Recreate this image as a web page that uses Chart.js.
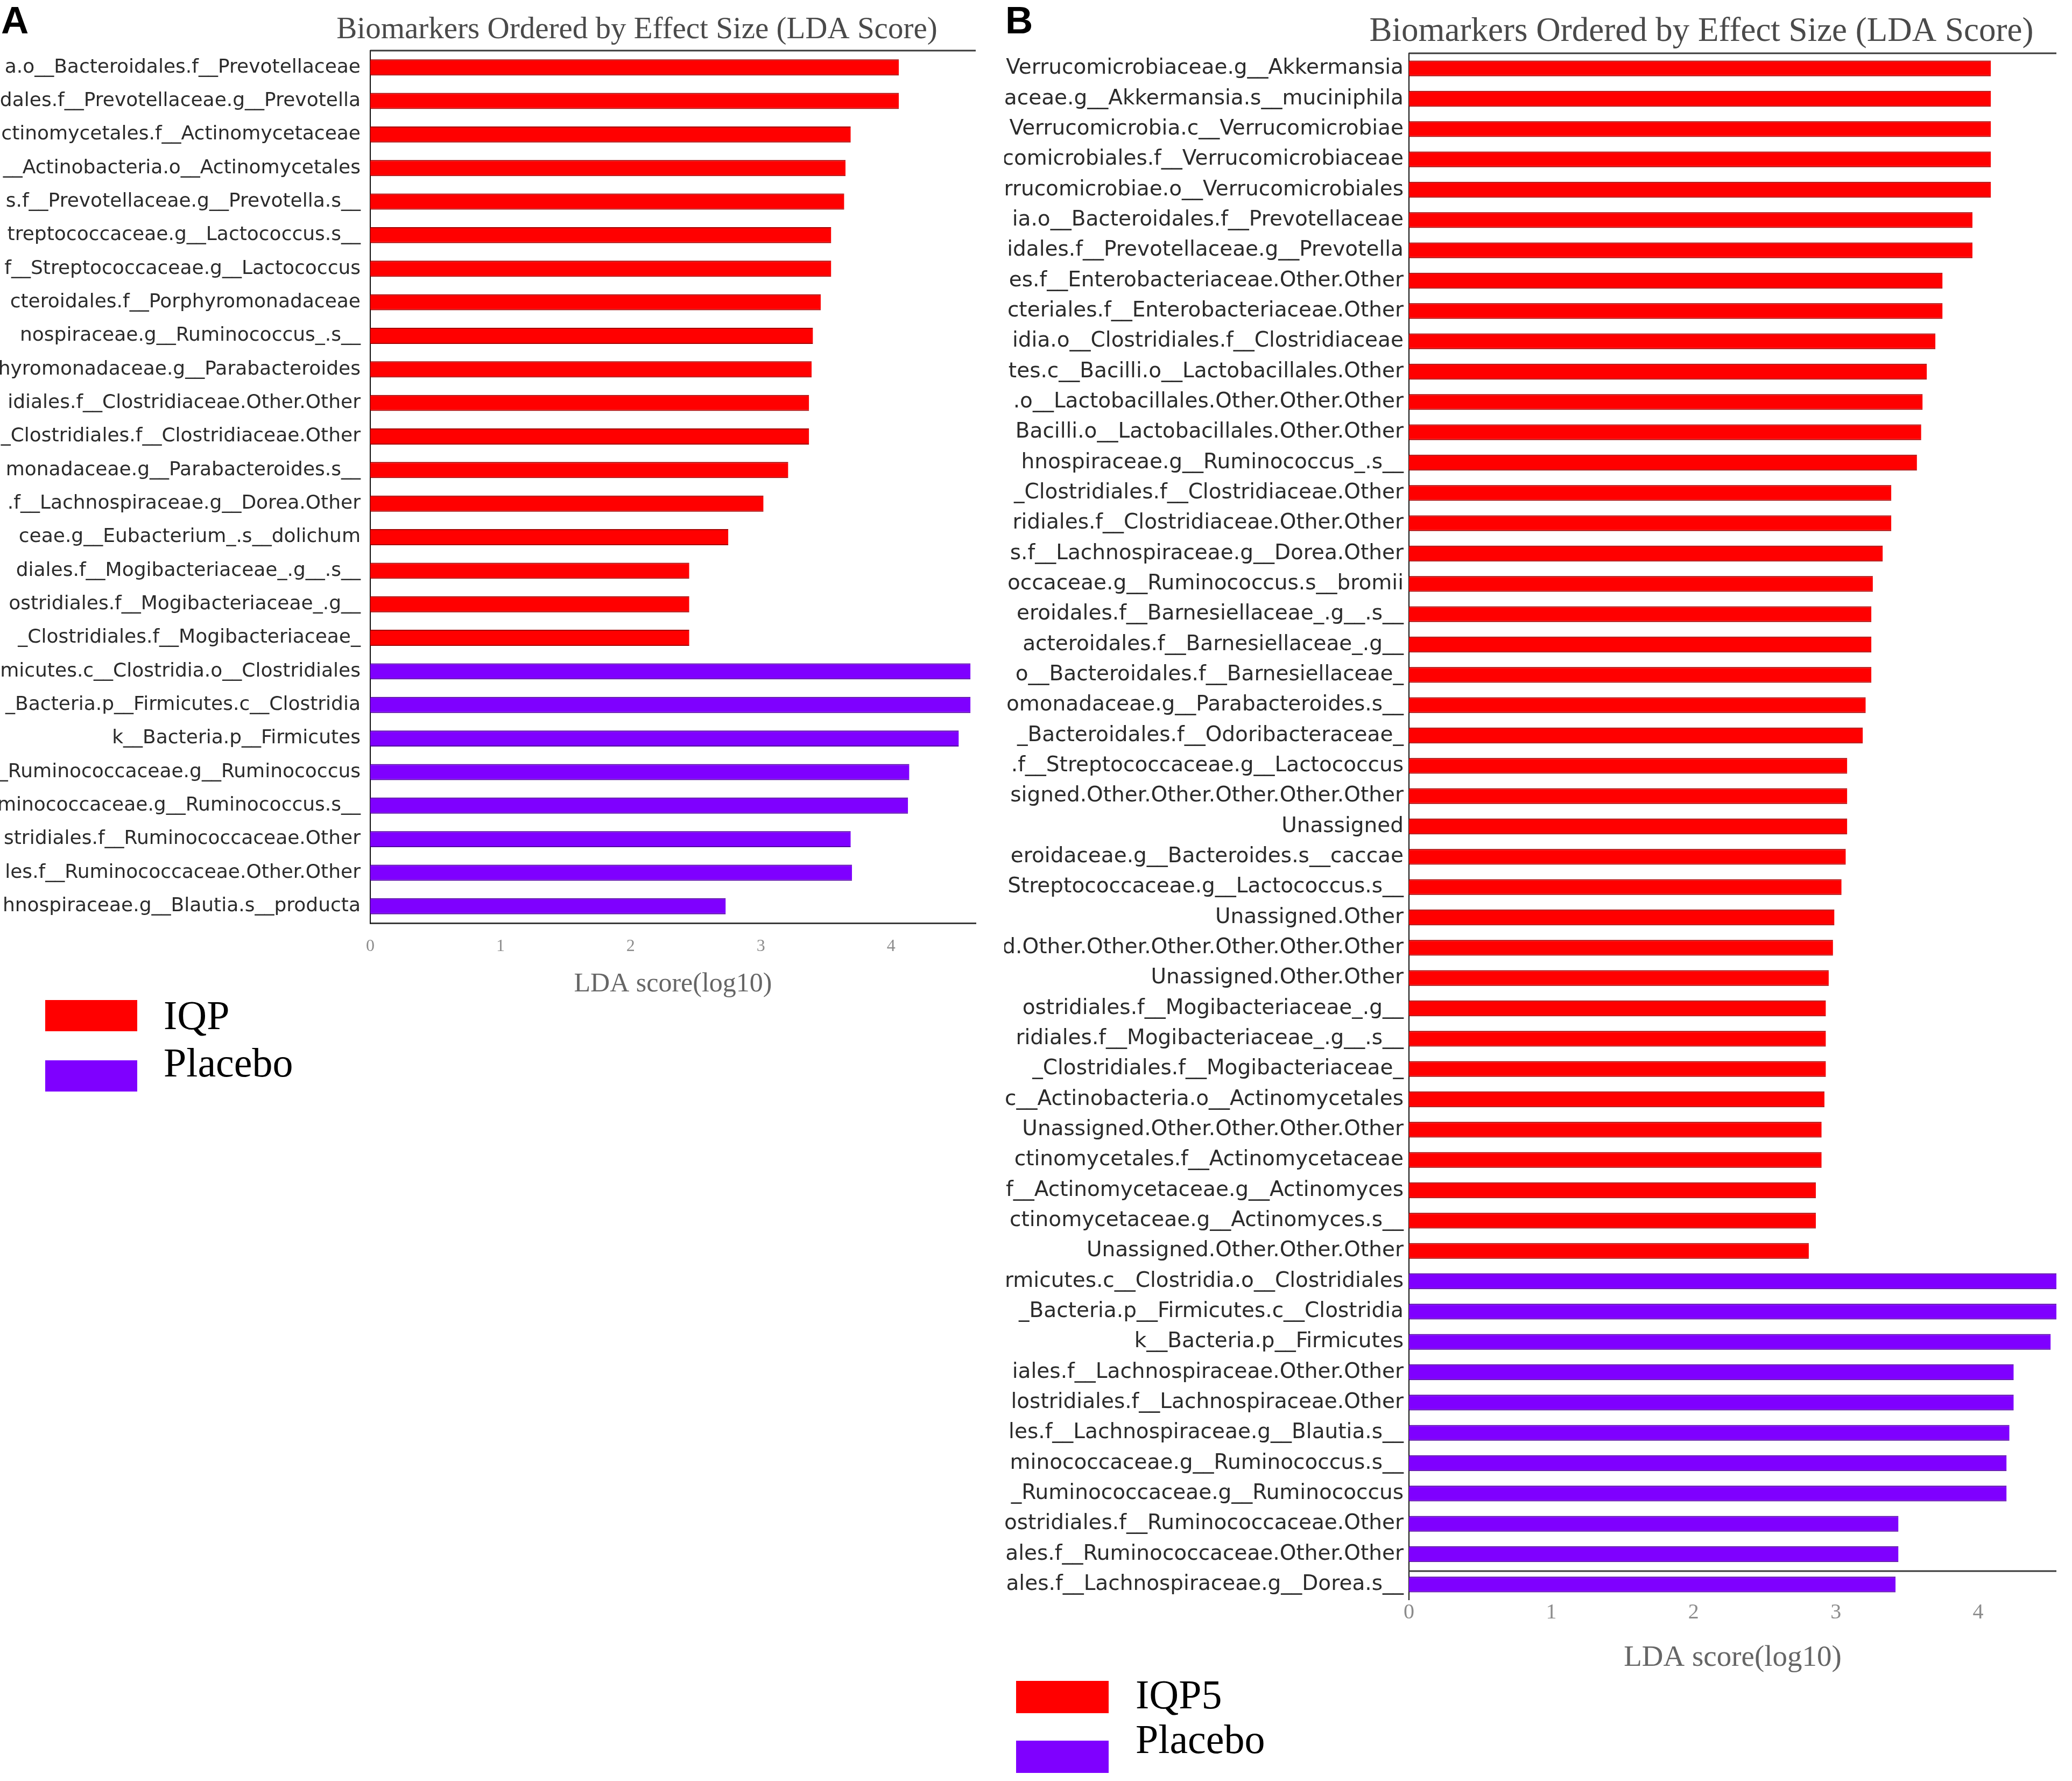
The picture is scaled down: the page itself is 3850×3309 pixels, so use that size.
<!DOCTYPE html>
<html>
<head>
<meta charset="utf-8">
<script src="https://cdn.jsdelivr.net/npm/chart.js@4.4.1/dist/chart.umd.min.js"></script>
<style>
    html, body { margin: 0; padding: 0; background: #fff; width: 3850px; height: 3309px; overflow: hidden; }
    body { position: relative; }
    canvas { position: absolute; top: 0; }
    #chartA { left: 0; }
    #chartB { left: 1866px; }
    .tag { position: absolute; font-family: "Liberation Sans", Arial, sans-serif; font-weight: bold; font-size: 71px; line-height: 1; color: #000; }
    .key { position: absolute; }
    .key-text { position: absolute; font-family: "Liberation Serif", serif; font-size: 76px; line-height: 1; color: #000; white-space: nowrap; }
</style>
</head>
<body>
<div class="tag" style="left:2px; top:2px;">A</div>
<div class="tag" style="left:1868px; top:2px;">B</div>
<canvas id="chartA" width="1850" height="1880"></canvas>
<canvas id="chartB" width="1984" height="3130"></canvas>
<script>
// panel A (IQP vs Placebo)
var iqpLabelsA = [
    "a.o__Bacteroidales.f__Prevotellaceae",
    "dales.f__Prevotellaceae.g__Prevotella",
    "ctinomycetales.f__Actinomycetaceae",
    "__Actinobacteria.o__Actinomycetales",
    "s.f__Prevotellaceae.g__Prevotella.s__",
    "treptococcaceae.g__Lactococcus.s__",
    "f__Streptococcaceae.g__Lactococcus",
    "cteroidales.f__Porphyromonadaceae",
    "nospiraceae.g__Ruminococcus_.s__",
    "hyromonadaceae.g__Parabacteroides",
    "idiales.f__Clostridiaceae.Other.Other",
    "_Clostridiales.f__Clostridiaceae.Other",
    "monadaceae.g__Parabacteroides.s__",
    ".f__Lachnospiraceae.g__Dorea.Other",
    "ceae.g__Eubacterium_.s__dolichum",
    "diales.f__Mogibacteriaceae_.g__.s__",
    "ostridiales.f__Mogibacteriaceae_.g__",
    "_Clostridiales.f__Mogibacteriaceae_"
];
var iqpValuesA = [4.06, 4.06, 3.69, 3.65, 3.64, 3.54, 3.54, 3.46, 3.40, 3.39, 3.37, 3.37, 3.21, 3.02, 2.75, 2.45, 2.45, 2.45];

var placeboLabelsA = [
    "micutes.c__Clostridia.o__Clostridiales",
    "_Bacteria.p__Firmicutes.c__Clostridia",
    "k__Bacteria.p__Firmicutes",
    "_Ruminococcaceae.g__Ruminococcus",
    "minococcaceae.g__Ruminococcus.s__",
    "stridiales.f__Ruminococcaceae.Other",
    "les.f__Ruminococcaceae.Other.Other",
    "hnospiraceae.g__Blautia.s__producta"
];
var placeboValuesA = [4.61, 4.61, 4.52, 4.14, 4.13, 3.69, 3.70, 2.73];

// panel B (IQP5 vs Placebo)
var iqpLabelsB = [
    "Verrucomicrobiaceae.g__Akkermansia",
    "iaceae.g__Akkermansia.s__muciniphila",
    "Verrucomicrobia.c__Verrucomicrobiae",
    "comicrobiales.f__Verrucomicrobiaceae",
    "rrucomicrobiae.o__Verrucomicrobiales",
    "ia.o__Bacteroidales.f__Prevotellaceae",
    "idales.f__Prevotellaceae.g__Prevotella",
    "es.f__Enterobacteriaceae.Other.Other",
    "cteriales.f__Enterobacteriaceae.Other",
    "idia.o__Clostridiales.f__Clostridiaceae",
    "tes.c__Bacilli.o__Lactobacillales.Other",
    ".o__Lactobacillales.Other.Other.Other",
    "Bacilli.o__Lactobacillales.Other.Other",
    "hnospiraceae.g__Ruminococcus_.s__",
    "_Clostridiales.f__Clostridiaceae.Other",
    "ridiales.f__Clostridiaceae.Other.Other",
    "s.f__Lachnospiraceae.g__Dorea.Other",
    "occaceae.g__Ruminococcus.s__bromii",
    "eroidales.f__Barnesiellaceae_.g__.s__",
    "acteroidales.f__Barnesiellaceae_.g__",
    "o__Bacteroidales.f__Barnesiellaceae_",
    "omonadaceae.g__Parabacteroides.s__",
    "_Bacteroidales.f__Odoribacteraceae_",
    ".f__Streptococcaceae.g__Lactococcus",
    "signed.Other.Other.Other.Other.Other",
    "Unassigned",
    "eroidaceae.g__Bacteroides.s__caccae",
    "Streptococcaceae.g__Lactococcus.s__",
    "Unassigned.Other",
    "d.Other.Other.Other.Other.Other.Other",
    "Unassigned.Other.Other",
    "ostridiales.f__Mogibacteriaceae_.g__",
    "ridiales.f__Mogibacteriaceae_.g__.s__",
    "_Clostridiales.f__Mogibacteriaceae_",
    "c__Actinobacteria.o__Actinomycetales",
    "Unassigned.Other.Other.Other.Other",
    "ctinomycetales.f__Actinomycetaceae",
    "f__Actinomycetaceae.g__Actinomyces",
    "ctinomycetaceae.g__Actinomyces.s__",
    "Unassigned.Other.Other.Other"
];
var iqpValuesB = [
    4.09, 4.09, 4.09, 4.09, 4.09, 3.96, 3.96, 3.75, 3.75, 3.70,
    3.64, 3.61, 3.60, 3.57, 3.39, 3.39, 3.33, 3.26, 3.25, 3.25,
    3.25, 3.21, 3.19, 3.08, 3.08, 3.08, 3.07, 3.04, 2.99, 2.98,
    2.95, 2.93, 2.93, 2.93, 2.92, 2.90, 2.90, 2.86, 2.86, 2.81
];

var placeboLabelsB = [
    "rmicutes.c__Clostridia.o__Clostridiales",
    "_Bacteria.p__Firmicutes.c__Clostridia",
    "k__Bacteria.p__Firmicutes",
    "iales.f__Lachnospiraceae.Other.Other",
    "lostridiales.f__Lachnospiraceae.Other",
    "les.f__Lachnospiraceae.g__Blautia.s__",
    "minococcaceae.g__Ruminococcus.s__",
    "_Ruminococcaceae.g__Ruminococcus",
    "ostridiales.f__Ruminococcaceae.Other",
    "ales.f__Ruminococcaceae.Other.Other",
    "ales.f__Lachnospiraceae.g__Dorea.s__"
];
var placeboValuesB = [4.60, 4.60, 4.51, 4.25, 4.25, 4.22, 4.20, 4.20, 3.44, 3.44, 3.42];

var tickValues = [0, 1, 2, 3, 4];
var legendA = ["IQP", "Placebo"];
var legendB = ["IQP5", "Placebo"];
var titleText = "Biomarkers Ordered by Effect Size (LDA Score)";
var axisTitleText = "LDA score(log10)";

var groupColors = ["rgb(255, 0, 0)", "rgb(127, 0, 255)"];
var groupEdges = ["rgb(165, 0, 0)", "rgb(80, 0, 160)"];

// title sits a bit left of the plot centre, like the original figure
var panelTitle = {
    id: "panelTitle",
    afterDraw: function (chart, args, opts) {
        var ctx = chart.ctx;
        var area = chart.chartArea;
        ctx.save();
        ctx.font = opts.size + "px 'Liberation Serif', serif";
        ctx.fillStyle = "#4a4a4a";
        ctx.textAlign = "center";
        ctx.textBaseline = "alphabetic";
        ctx.fillText(opts.text, (area.left + area.right) / 2 + opts.shift, opts.baseline);
        ctx.restore();
    }
};

// top rule, plus the stray rule panel B has above its last bar
var frameLines = {
    id: "frameLines",
    afterDatasetsDraw: function (chart, args, opts) {
        var ctx = chart.ctx;
        var area = chart.chartArea;
        ctx.save();
        ctx.strokeStyle = "#3a3a3a";
        ctx.lineWidth = 3;
        ctx.beginPath();
        ctx.moveTo(area.left, area.top);
        ctx.lineTo(area.right, area.top);
        if (opts.cutAt !== null) {
            var y = chart.scales.y.getPixelForValue(opts.cutAt);
            ctx.moveTo(area.left, y);
            ctx.lineTo(area.right, y);
        }
        ctx.stroke();
        ctx.restore();
    }
};

function makeChart(id, setup) {
    var labels = setup.labels[0].concat(setup.labels[1]);
    var values = setup.values[0].concat(setup.values[1]);
    var fill = [];
    var edge = [];
    setup.values.forEach(function (list, g) {
        list.forEach(function () {
            fill.push(groupColors[g]);
            edge.push(groupEdges[g]);
        });
    });

    var ctx = document.getElementById(id).getContext("2d");
    return new Chart(ctx, {
        type: "bar",
        data: {
            labels: labels,
            datasets: [
                {
                    data: values,
                    backgroundColor: fill,
                    borderColor: edge,
                    borderWidth: { top: 2, bottom: 2, left: 0, right: 0 },
                    borderSkipped: false,
                    barPercentage: setup.barPercentage,
                    categoryPercentage: 1,
                },
            ],
        },
        options: {
            indexAxis: "y",
            responsive: false,
            animation: false,
            devicePixelRatio: 1,
            layout: { padding: { top: setup.top, right: setup.right, left: 0, bottom: 0 } },
            plugins: {
                legend: { display: false },
                tooltip: { enabled: false },
                panelTitle: { text: titleText, size: setup.titleSize, shift: setup.titleShift, baseline: setup.titleBaseline },
                frameLines: { cutAt: setup.cutAt },
            },
            scales: {
                x: {
                    type: "linear",
                    min: 0,
                    max: setup.xMax,
                    grid: { display: false, drawTicks: false },
                    border: { display: setup.bottomRule, color: "#3a3a3a", width: 3 },
                    afterBuildTicks: function (scale) {
                        scale.ticks = tickValues.map(function (v) { return { value: v }; });
                    },
                    afterFit: function (scale) {
                        scale.height = setup.xAxisHeight;
                    },
                    ticks: {
                        font: { family: "'Liberation Serif', serif", size: setup.tickSize },
                        color: "#8c8c8c",
                        padding: setup.tickPad,
                    },
                    title: {
                        display: true,
                        text: axisTitleText,
                        font: { family: "'Liberation Serif', serif", size: setup.axisTitleSize },
                        color: "#666",
                        padding: { top: 0, bottom: setup.axisTitlePad },
                    },
                },
                y: {
                    grid: { display: false, drawTicks: false },
                    border: { display: true, color: "#111", width: 2 },
                    afterFit: function (scale) {
                        scale.width = setup.yAxisWidth;
                    },
                    ticks: {
                        autoSkip: false,
                        font: { family: "'DejaVu Sans', sans-serif", size: setup.labelSize },
                        color: "#2b2b2b",
                        padding: setup.labelPad,
                    },
                },
            },
        },
        plugins: [panelTitle, frameLines],
    });
}

makeChart("chartA", {
    labels: [iqpLabelsA, placeboLabelsA],
    values: [iqpValuesA, placeboValuesA],
    barPercentage: 0.48,
    top: 94, right: 37, xMax: 4.65,
    yAxisWidth: 688, labelSize: 36, labelPad: 18,
    xAxisHeight: 165, tickSize: 32, tickPad: 24, axisTitleSize: 50, axisTitlePad: 21,
    titleSize: 57, titleShift: -67, titleBaseline: 71,
    bottomRule: true, cutAt: null,
});

makeChart("chartB", {
    labels: [iqpLabelsB, placeboLabelsB],
    values: [iqpValuesB, placeboValuesB],
    barPercentage: 0.52,
    top: 99, right: 29, xMax: 4.55,
    yAxisWidth: 752, labelSize: 39, labelPad: 10,
    xAxisHeight: 158, tickSize: 40, tickPad: 0, axisTitleSize: 55, axisTitlePad: 16,
    titleSize: 63, titleShift: -58, titleBaseline: 76,
    bottomRule: false, cutAt: 49.56,
});

// legends under each panel
function addLegend(names, boxLeft, boxTops, boxW, boxH, textLeft, textTops) {
    names.forEach(function (name, i) {
        var box = document.createElement("div");
        box.className = "key";
        box.style.left = boxLeft + "px";
        box.style.top = boxTops[i] + "px";
        box.style.width = boxW + "px";
        box.style.height = boxH + "px";
        box.style.background = groupColors[i];
        document.body.appendChild(box);

        var txt = document.createElement("div");
        txt.className = "key-text";
        txt.style.left = textLeft + "px";
        txt.style.top = textTops[i] + "px";
        txt.textContent = name;
        document.body.appendChild(txt);
    });
}

addLegend(legendA, 84, [1858, 1970], 171, 58, 304, [1848, 1936]);
addLegend(legendB, 1888, [3123, 3234], 172, 60, 2110, [3110, 3193]);
</script>
</body>
</html>
